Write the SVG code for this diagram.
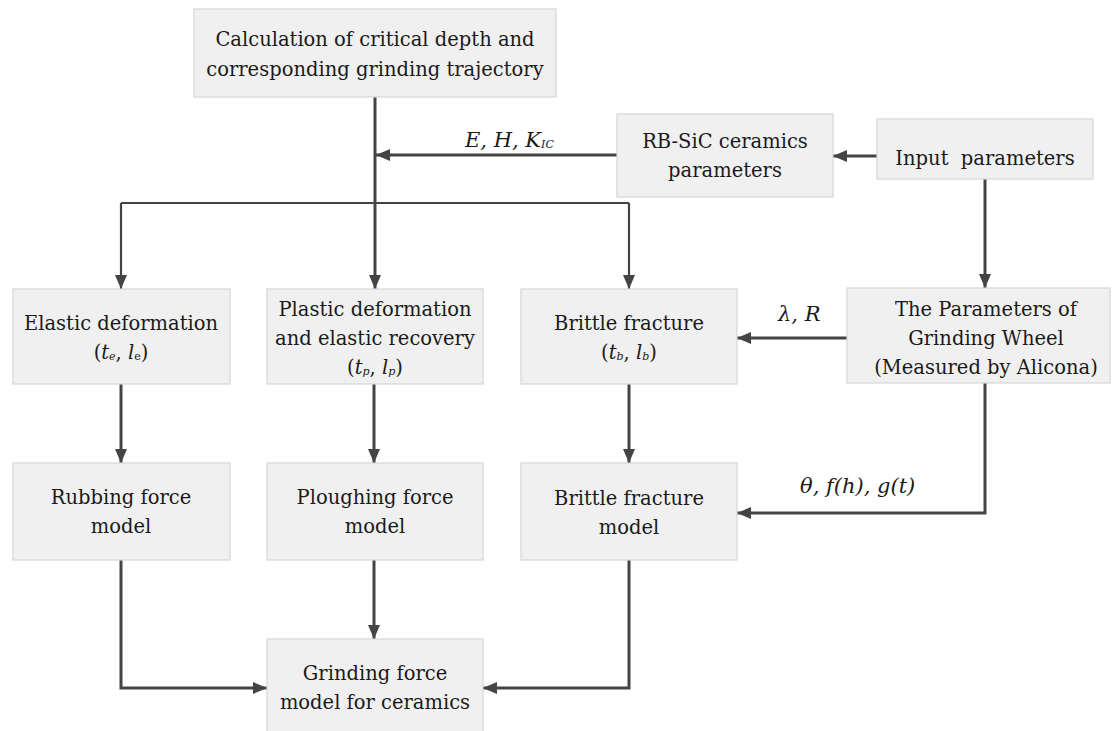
<svg xmlns="http://www.w3.org/2000/svg" width="1112" height="731" viewBox="0 0 1112 731">
<defs>
<style>
.box{fill:#f0f0f0;stroke:#d6d6d6;stroke-width:1.2}
.t{font-family:'DejaVu Serif','Liberation Serif',serif;font-size:19.5px;fill:#1a1a1a;text-anchor:middle}
.lab{font-family:'DejaVu Serif','Liberation Serif',serif;font-size:21px;font-style:italic;fill:#1a1a1a}
.sub{font-size:11px}
.c{fill:none;stroke:#444;stroke-width:3}
.c2{fill:none;stroke:#444;stroke-width:2.2}
</style>
<marker id="ah" viewBox="0 0 14 12" refX="14" refY="6" markerWidth="14" markerHeight="12" markerUnits="userSpaceOnUse" orient="auto">
<path d="M0,0 L14,6 L0,12 z" fill="#444"/>
</marker>
</defs>
<rect width="1112" height="731" fill="#ffffff"/>

<g id="connectors">
<path class="c" d="M375,97 V289" marker-end="url(#ah)"/>
<path class="c" d="M617,155 H376" marker-end="url(#ah)"/>
<path class="c2" d="M121,203 H629"/>
<path class="c2" d="M121,203 V289" marker-end="url(#ah)"/>
<path class="c2" d="M629,203 V289" marker-end="url(#ah)"/>
<path class="c" d="M877,156 H833" marker-end="url(#ah)"/>
<path class="c" d="M985,179 V288" marker-end="url(#ah)"/>
<path class="c" d="M847,338 H737" marker-end="url(#ah)"/>
<path class="c" d="M985,383 V513 H737" marker-end="url(#ah)"/>
<path class="c" d="M121,384 V463" marker-end="url(#ah)"/>
<path class="c" d="M374,384 V463" marker-end="url(#ah)"/>
<path class="c" d="M629,384 V463" marker-end="url(#ah)"/>
<path class="c" d="M121,560 V688 H267" marker-end="url(#ah)"/>
<path class="c" d="M374,560 V639" marker-end="url(#ah)"/>
<path class="c" d="M629,560 V688 H483" marker-end="url(#ah)"/>
</g>

<g id="labels">
<text class="lab" x="465" y="147">E, H, K<tspan class="sub" dy="1">IC</tspan></text>
<text class="lab" x="778" y="321">λ, R</text>
<text class="lab" x="800" y="493">θ, f(h), g(t)</text>
</g>

<g id="calc">
<rect class="box" x="194" y="9" width="362" height="88"/>
<text class="t" x="375" y="46">Calculation of critical depth and</text>
<text class="t" x="375" y="76">corresponding grinding trajectory</text>
</g>

<g id="rbsic">
<rect class="box" x="617" y="114" width="216" height="83"/>
<text class="t" x="725" y="148">RB-SiC ceramics</text>
<text class="t" x="725" y="177">parameters</text>
</g>

<g id="input">
<rect class="box" x="877" y="119" width="216" height="60"/>
<text class="t" x="985" y="165" xml:space="preserve">Input  parameters</text>
</g>

<g id="elastic">
<rect class="box" x="13" y="289" width="217" height="95"/>
<text class="t" x="121" y="330">Elastic deformation</text>
<text class="t" x="121" y="359">(<tspan font-style="italic">t</tspan><tspan class="sub" font-style="italic" dy="1">e</tspan><tspan dy="-1">, </tspan><tspan font-style="italic">l</tspan><tspan class="sub" dy="1">e</tspan><tspan dy="-1">)</tspan></text>
</g>

<g id="plastic">
<rect class="box" x="267" y="289" width="216" height="95"/>
<text class="t" x="375" y="316">Plastic deformation</text>
<text class="t" x="375" y="345">and elastic recovery</text>
<text class="t" x="375" y="374">(<tspan font-style="italic">t</tspan><tspan class="sub" font-style="italic" dy="1">p</tspan><tspan dy="-1">, </tspan><tspan font-style="italic">l</tspan><tspan class="sub" font-style="italic" dy="1">p</tspan><tspan dy="-1">)</tspan></text>
</g>

<g id="brittle">
<rect class="box" x="521" y="289" width="216" height="95"/>
<text class="t" x="629" y="330">Brittle fracture</text>
<text class="t" x="629" y="359">(<tspan font-style="italic">t</tspan><tspan class="sub" font-style="italic" dy="1">b</tspan><tspan dy="-1">, </tspan><tspan font-style="italic">l</tspan><tspan class="sub" font-style="italic" dy="1">b</tspan><tspan dy="-1">)</tspan></text>
</g>

<g id="wheel">
<rect class="box" x="847" y="288" width="263" height="95"/>
<text class="t" x="986" y="316">The Parameters of</text>
<text class="t" x="986" y="345">Grinding Wheel</text>
<text class="t" x="986" y="374">(Measured by Alicona)</text>
</g>

<g id="rubbing">
<rect class="box" x="13" y="463" width="217" height="97"/>
<text class="t" x="121" y="504">Rubbing force</text>
<text class="t" x="121" y="533">model</text>
</g>

<g id="ploughing">
<rect class="box" x="267" y="463" width="216" height="97"/>
<text class="t" x="375" y="504">Ploughing force</text>
<text class="t" x="375" y="533">model</text>
</g>

<g id="brittlemodel">
<rect class="box" x="521" y="463" width="216" height="97"/>
<text class="t" x="629" y="505">Brittle fracture</text>
<text class="t" x="629" y="534">model</text>
</g>

<g id="grinding">
<rect class="box" x="267" y="639" width="216" height="95"/>
<text class="t" x="375" y="680">Grinding force</text>
<text class="t" x="375" y="709">model for ceramics</text>
</g>
</svg>
